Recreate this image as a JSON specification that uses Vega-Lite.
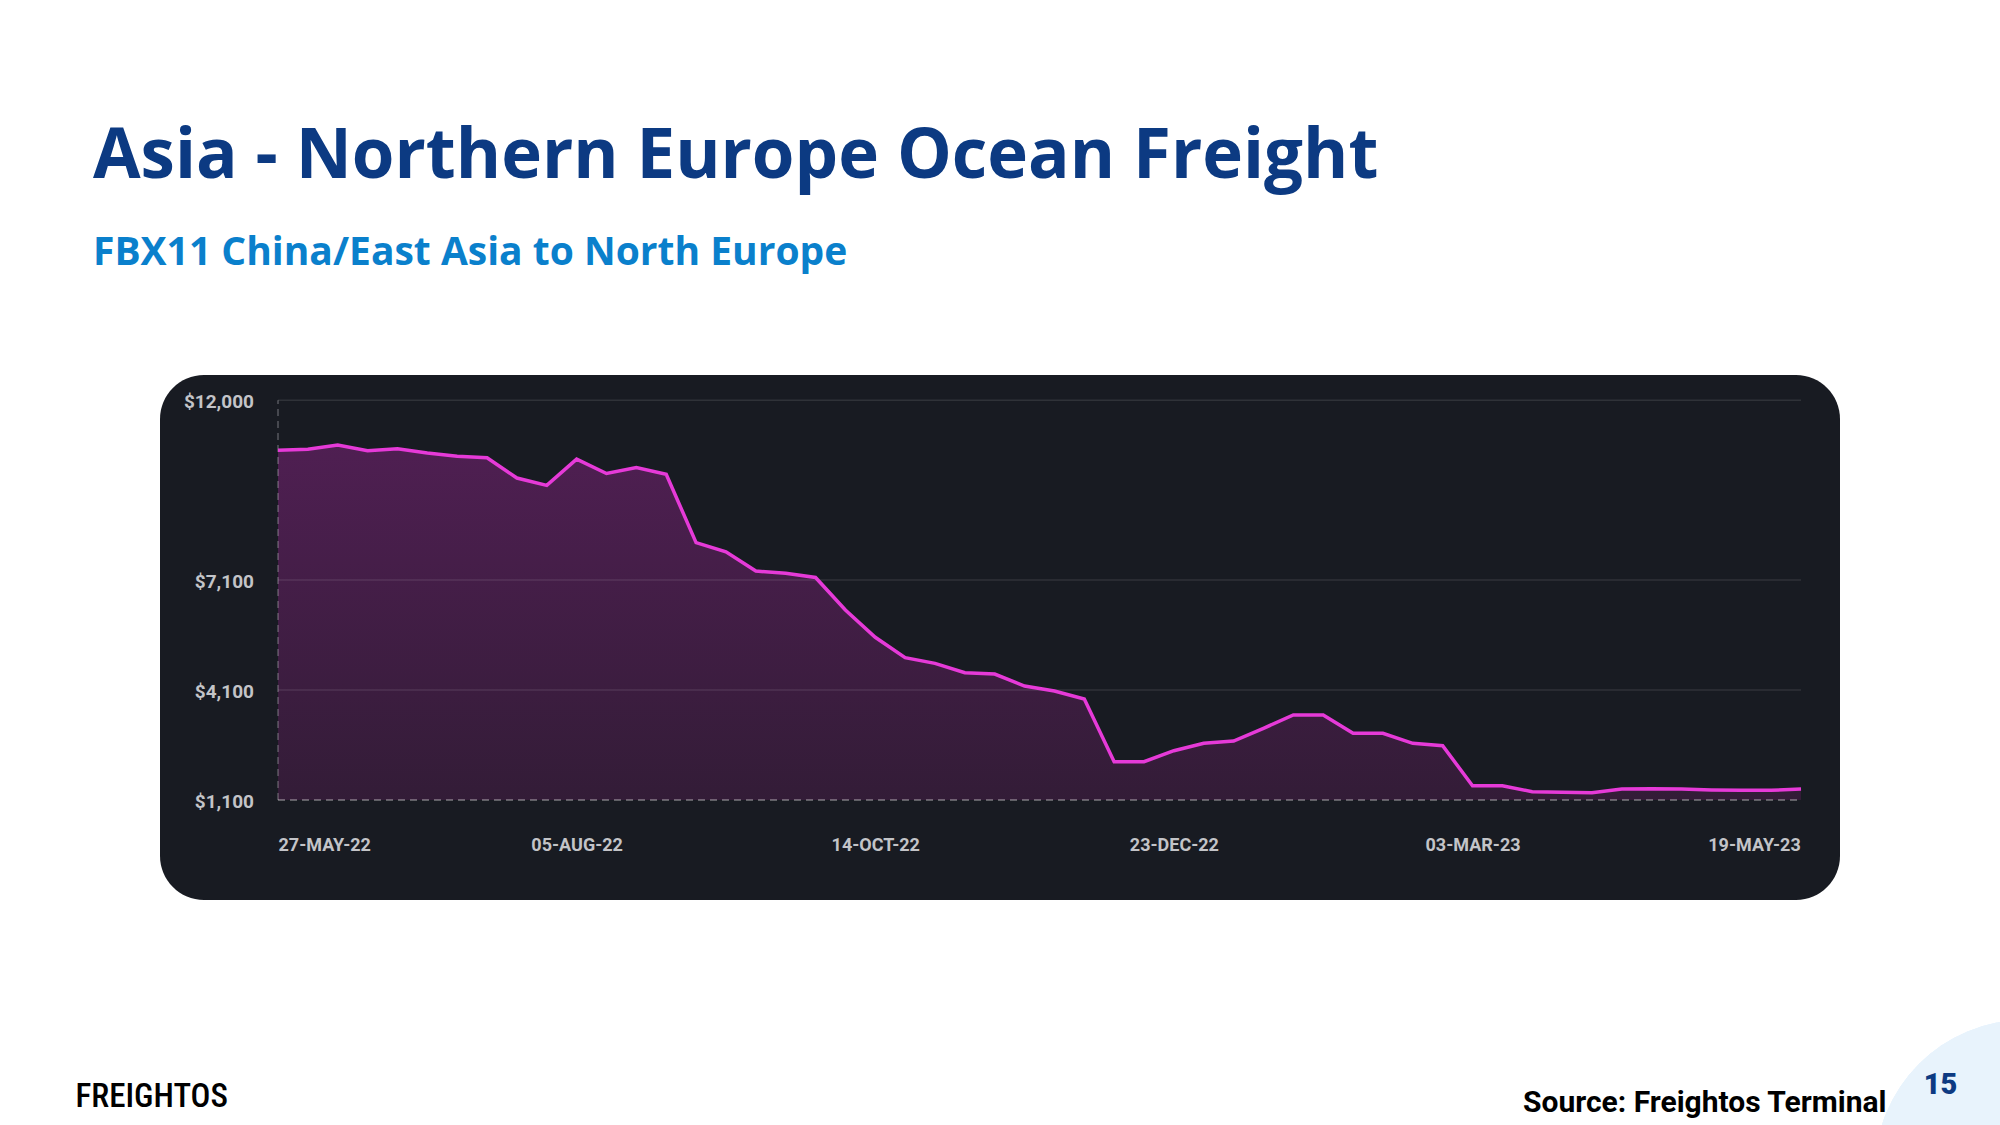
{
  "$schema": "https://vega.github.io/schema/vega-lite/v6.json",
  "width": 1680,
  "height": 525,
  "autosize": "none",
  "padding": {"left": 160, "top": 375, "right": 160, "bottom": 225},
  "background": "#ffffff",
  "title": {
    "text": "Asia - Northern Europe Ocean Freight",
    "subtitle": "FBX11 China/East Asia to North Europe",
    "anchor": "start",
    "frame": "group",
    "dx": -67,
    "offset": 102,
    "font": "Open Sans",
    "fontSize": 69,
    "fontWeight": "bold",
    "color": "#0c3a82",
    "subtitleFont": "Open Sans",
    "subtitleFontSize": 39,
    "subtitleFontWeight": "bold",
    "subtitleColor": "#0a80cc",
    "subtitlePadding": 42
  },
  "datasets": {
    "fbx": [
      {"date": "2022-05-27", "price": 10640},
      {"date": "2022-06-03", "price": 10664},
      {"date": "2022-06-10", "price": 10780},
      {"date": "2022-06-17", "price": 10626},
      {"date": "2022-06-24", "price": 10680},
      {"date": "2022-07-01", "price": 10565},
      {"date": "2022-07-08", "price": 10475},
      {"date": "2022-07-15", "price": 10435},
      {"date": "2022-07-22", "price": 9880},
      {"date": "2022-07-29", "price": 9680},
      {"date": "2022-08-05", "price": 10395},
      {"date": "2022-08-12", "price": 10005},
      {"date": "2022-08-19", "price": 10168},
      {"date": "2022-08-26", "price": 9985},
      {"date": "2022-09-02", "price": 8120},
      {"date": "2022-09-09", "price": 7871},
      {"date": "2022-09-16", "price": 7345},
      {"date": "2022-09-23", "price": 7282},
      {"date": "2022-09-30", "price": 7168},
      {"date": "2022-10-07", "price": 6281},
      {"date": "2022-10-14", "price": 5537},
      {"date": "2022-10-21", "price": 4981},
      {"date": "2022-10-28", "price": 4827},
      {"date": "2022-11-04", "price": 4572},
      {"date": "2022-11-11", "price": 4536},
      {"date": "2022-11-18", "price": 4209},
      {"date": "2022-11-25", "price": 4073},
      {"date": "2022-12-02", "price": 3854},
      {"date": "2022-12-09", "price": 2145},
      {"date": "2022-12-16", "price": 2145},
      {"date": "2022-12-23", "price": 2445},
      {"date": "2022-12-30", "price": 2646},
      {"date": "2023-01-06", "price": 2709},
      {"date": "2023-01-13", "price": 3055},
      {"date": "2023-01-20", "price": 3418},
      {"date": "2023-01-27", "price": 3418},
      {"date": "2023-02-03", "price": 2918},
      {"date": "2023-02-10", "price": 2918},
      {"date": "2023-02-17", "price": 2646},
      {"date": "2023-02-24", "price": 2581},
      {"date": "2023-03-03", "price": 1490},
      {"date": "2023-03-10", "price": 1490},
      {"date": "2023-03-17", "price": 1327},
      {"date": "2023-03-24", "price": 1309},
      {"date": "2023-03-31", "price": 1300},
      {"date": "2023-04-07", "price": 1400},
      {"date": "2023-04-14", "price": 1409},
      {"date": "2023-04-21", "price": 1400},
      {"date": "2023-04-28", "price": 1373},
      {"date": "2023-05-05", "price": 1364},
      {"date": "2023-05-12", "price": 1364},
      {"date": "2023-05-19", "price": 1400}
    ],
    "grid": [{"level": 12000}, {"level": 7100}, {"level": 4100}],
    "ticks": [{"level": 12000}, {"level": 7100}, {"level": 4100}, {"level": 1100}]
  },
  "resolve": {"axis": {"x": "independent"}},
  "layer": [
    {
      "data": {"name": "grid"},
      "mark": {"type": "point", "shape": "circle", "filled": true, "color": "#e8f3fc", "opacity": 1, "size": 90000},
      "encoding": {
        "x": {
          "datum": {"year": 2023, "month": 7, "date": 10, "hours": 12, "utc": true},
          "type": "temporal",
          "axis": {
            "orient": "bottom",
            "offset": 0,
            "labels": false,
            "ticks": false,
            "domain": false,
            "grid": false,
            "zindex": 2,
            "title": "15",
            "titleX": 1780,
            "titleY": 193,
            "titleAngle": 0,
            "titleAlign": "center",
            "titleBaseline": "alphabetic",
            "titleFont": "Roboto",
            "titleFontSize": 29,
            "titleFontWeight": 900,
            "titleColor": "#0d3a82"
          }
        },
        "y": {"datum": -8990, "type": "quantitative", "axis": null}
      }
    },
    {
      "data": {"name": "fbx"},
      "mark": {
        "type": "area",
        "color": {
          "gradient": "linear",
          "x1": 0, "y1": 0, "x2": 0, "y2": 1,
          "stops": [
            {"offset": 0, "color": "#4f1f52"},
            {"offset": 1, "color": "#331c37"}
          ]
        }
      },
      "encoding": {
        "x": {
          "field": "date",
          "type": "temporal",
          "scale": {
            "type": "utc",
            "domain": [
              {"year": 2022, "month": 4, "date": 29, "hours": 8, "minutes": 10, "utc": true},
              {"year": 2023, "month": 5, "date": 28, "hours": 3, "minutes": 22, "utc": true}
            ]
          },
          "axis": {
            "orient": "bottom",
            "offset": -100,
            "zindex": 1,
            "values": [
              {"year": 2022, "month": 5, "date": 27, "utc": true},
              {"year": 2022, "month": 8, "date": 5, "utc": true},
              {"year": 2022, "month": 10, "date": 14, "utc": true},
              {"year": 2022, "month": 12, "date": 23, "utc": true},
              {"year": 2023, "month": 3, "date": 3, "utc": true},
              {"year": 2023, "month": 5, "date": 19, "utc": true}
            ],
            "labelExpr": "upper(utcFormat(datum.value, '%d-%b-%y'))",
            "labelFont": "Roboto",
            "labelFontWeight": "bold",
            "labelFontSize": 18,
            "labelColor": "#c3c4c8",
            "labelPadding": 45,
            "labelBaseline": "middle",
            "labelFlush": false,
            "labelOverlap": false,
            "labelAlign": {"condition": {"test": "datum.value < utc(2022,5,1)", "value": "left"}, "value": "center"},
            "labelOffset": {"condition": {"test": "datum.value > utc(2023,3,15)", "value": -47}, "value": 0},
            "ticks": false,
            "domain": false,
            "grid": false,
            "title": "Source: Freightos Terminal",
            "titleFont": "Roboto",
            "titleFontSize": 30,
            "titleFontWeight": "bold",
            "titleColor": "#000000",
            "titleX": 1726,
            "titleY": 311,
            "titleAlign": "right",
            "titleBaseline": "alphabetic"
          }
        },
        "y": {
          "field": "price",
          "type": "quantitative",
          "scale": {"domain": [-1627, 12691], "zero": false, "nice": false},
          "axis": null
        },
        "y2": {"datum": 1100}
      }
    },
    {
      "data": {"name": "grid"},
      "mark": {"type": "rule", "color": "#ffffff", "opacity": 0.1, "strokeWidth": 1.5},
      "encoding": {
        "y": {"field": "level", "type": "quantitative", "axis": null},
        "x": {"datum": {"year": 2022, "month": 5, "date": 27, "utc": true}, "type": "temporal", "axis": null},
        "x2": {"datum": {"year": 2023, "month": 5, "date": 19, "utc": true}}
      }
    },
    {
      "data": {"name": "grid"},
      "mark": {"type": "rule", "color": "#ffffff", "opacity": 0.16, "strokeWidth": 1.5, "strokeDash": [7, 5]},
      "encoding": {
        "y": {"datum": 1100, "type": "quantitative", "axis": null},
        "x": {"datum": {"year": 2022, "month": 5, "date": 27, "utc": true}, "type": "temporal", "axis": null},
        "x2": {"datum": {"year": 2023, "month": 5, "date": 19, "utc": true}}
      }
    },
    {
      "data": {"name": "grid"},
      "mark": {"type": "rule", "color": "#ffffff", "opacity": 0.1, "strokeWidth": 1.5, "strokeDash": [7, 5]},
      "encoding": {
        "x": {"datum": {"year": 2022, "month": 5, "date": 27, "utc": true}, "type": "temporal", "axis": null},
        "y": {"datum": 1100, "type": "quantitative", "axis": null},
        "y2": {"datum": 12000}
      }
    },
    {
      "data": {"name": "ticks"},
      "mark": {"type": "text", "align": "right", "baseline": "middle", "dx": -24, "dy": 2, "font": "Roboto", "fontWeight": "bold", "fontSize": 19, "color": "#c3c4c8"},
      "encoding": {
        "x": {"datum": {"year": 2022, "month": 5, "date": 27, "utc": true}, "type": "temporal", "axis": null},
        "y": {"field": "level", "type": "quantitative", "axis": null},
        "text": {"field": "level", "type": "quantitative", "format": "$,d"}
      }
    },
    {
      "data": {"name": "fbx"},
      "mark": {"type": "line", "color": "#e63ad8", "strokeWidth": 3.5},
      "encoding": {
        "x": {
          "field": "date",
          "type": "temporal",
          "axis": {
            "orient": "top",
            "labels": false,
            "ticks": false,
            "domain": false,
            "grid": false,
            "zindex": 1,
            "title": "FREIGHTOS",
            "titleX": -85,
            "titleY": 731,
            "titleAngle": 0,
            "titleAlign": "left",
            "titleBaseline": "alphabetic",
            "titleFont": "Roboto Condensed, Liberation Sans Narrow, Roboto",
            "titleFontSize": 33,
            "titleFontWeight": 500,
            "titleColor": "#000000"
          }
        },
        "y": {"field": "price", "type": "quantitative", "axis": null}
      }
    }
  ],
  "config": {
    "view": {"fill": "#181b22", "cornerRadius": 44, "stroke": null}
  }
}
